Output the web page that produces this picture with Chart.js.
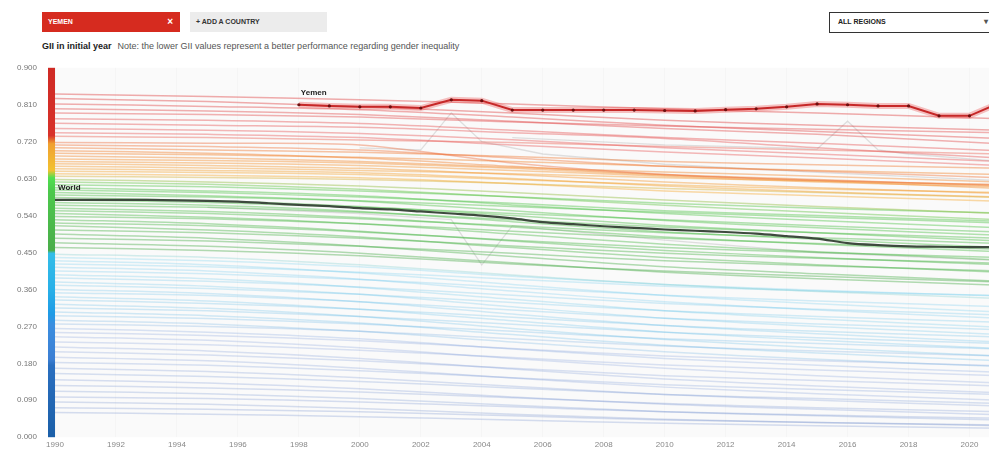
<!DOCTYPE html>
<html>
<head>
<meta charset="utf-8">
<script src="https://cdn.jsdelivr.net/npm/chart.js@4.4.0/dist/chart.umd.min.js"></script>
<style>
	* { box-sizing: border-box; }
	body {
		margin: 0;
		width: 989px;
		height: 450px;
		overflow: hidden;
		position: relative;
		background: #fff;
		font-family: "Liberation Sans", Arial, sans-serif;
	}
	.pill {
		position: absolute;
		top: 12px;
		height: 20px;
		line-height: 20px;
		font-size: 7px;
		font-weight: bold;
		padding-left: 6px;
	}
	.country { left: 42px; width: 138px; background: #d62b1f; color: #fff; }
	.country span { position: absolute; right: 7px; font-size: 10px; }
	.add { left: 190px; width: 137px; background: #ececec; color: #333; }
	.regions {
		left: 829px; width: 170px; height: 21px; line-height: 18px;
		border: 1.5px solid #333; background: #fff; color: #222; padding-left: 8px;
	}
	.regions span { position: absolute; left: 154px; font-size: 8px; color: #555; }
	.note {
		position: absolute;
		top: 41px;
		left: 42px;
		font-size: 9px;
		color: #555;
		white-space: nowrap;
	}
	.note b { color: #222; margin-right: 6px; }
	#chart { position: absolute; top: 53px; left: 0; }
</style>
</head>
<body>
<div class="pill country">YEMEN<span>×</span></div>
<div class="pill add">+ ADD A COUNTRY</div>
<div class="pill regions">ALL REGIONS<span>▾</span></div>
<div class="note"><b>GII in initial year</b>Note: the lower GII values represent a better performance regarding gender inequality</div>
<canvas id="chart" width="1004" height="399"></canvas>

<script>
// Tick labels
const xTicks = [1990, 1992, 1994, 1996, 1998, 2000, 2002, 2004, 2006, 2008, 2010, 2012, 2014, 2016, 2018, 2020];
const yTicks = [0, 0.09, 0.18, 0.27, 0.36, 0.45, 0.54, 0.63, 0.72, 0.81, 0.9];

// Highlighted series
const yemenYears = [1998, 1999, 2000, 2001, 2002, 2003, 2004, 2005, 2006, 2007, 2008, 2009, 2010, 2011, 2012, 2013, 2014, 2015, 2016, 2017, 2018, 2019, 2020, 2021];
const yemenValues = [0.810, 0.807, 0.805, 0.805, 0.802, 0.822, 0.820, 0.797, 0.797, 0.797, 0.797, 0.797, 0.796, 0.795, 0.798, 0.800, 0.805, 0.812, 0.810, 0.807, 0.807, 0.783, 0.783, 0.815];

const worldYears = [1990, 1991, 1992, 1993, 1994, 1995, 1996, 1997, 1998, 1999, 2000, 2001, 2002, 2003, 2004, 2005, 2006, 2007, 2008, 2009, 2010, 2011, 2012, 2013, 2014, 2015, 2016, 2017, 2018, 2019, 2020, 2021];
const worldValues = [0.578, 0.578, 0.578, 0.578, 0.577, 0.576, 0.574, 0.570, 0.566, 0.563, 0.558, 0.555, 0.550, 0.545, 0.540, 0.533, 0.524, 0.519, 0.514, 0.510, 0.506, 0.503, 0.500, 0.496, 0.490, 0.484, 0.473, 0.468, 0.465, 0.464, 0.463, 0.463];

// Background countries, sampled years
const sampleYears = [1990, 1995, 2000, 2005, 2010, 2015, 2021];

const redLines = [
	[0.836, 0.830, 0.822, 0.812, 0.800, 0.790, 0.776],
	[0.825, 0.818, 0.805, 0.790, 0.772, 0.760, 0.748],
	[0.812, 0.806, 0.798, 0.780, 0.760, 0.745, 0.728],
	[0.800, 0.795, 0.786, 0.770, 0.752, 0.738, 0.715],
	[0.790, 0.786, 0.780, 0.768, 0.758, 0.750, 0.742],
	[0.776, 0.772, 0.764, 0.748, 0.730, 0.716, 0.698],
	[0.765, 0.760, 0.755, 0.742, 0.728, 0.705, 0.680],
	[0.752, 0.748, 0.740, 0.725, 0.705, 0.690, 0.672],
	[0.742, 0.738, 0.730, 0.712, 0.695, 0.680, 0.662],
	[0.733, 0.730, 0.724, 0.718, 0.708, 0.700, 0.690],
];

const orangeLines = [
	[0.718, 0.716, 0.712, 0.668, 0.640, 0.626, 0.615],
	[0.712, 0.708, 0.700, 0.680, 0.660, 0.648, 0.632],
	[0.705, 0.700, 0.694, 0.684, 0.672, 0.664, 0.655],
	[0.698, 0.692, 0.680, 0.660, 0.640, 0.628, 0.612],
	[0.692, 0.688, 0.682, 0.672, 0.660, 0.650, 0.640],
	[0.685, 0.680, 0.672, 0.658, 0.646, 0.636, 0.622],
	[0.678, 0.674, 0.668, 0.655, 0.638, 0.625, 0.606],
	[0.672, 0.668, 0.662, 0.650, 0.636, 0.622, 0.610],
	[0.666, 0.662, 0.655, 0.640, 0.622, 0.608, 0.594],
	[0.660, 0.656, 0.650, 0.642, 0.632, 0.624, 0.615],
	[0.654, 0.650, 0.644, 0.630, 0.612, 0.598, 0.585],
	[0.648, 0.645, 0.640, 0.628, 0.615, 0.605, 0.596],
	[0.642, 0.638, 0.632, 0.618, 0.600, 0.588, 0.575],
	[0.636, 0.633, 0.628, 0.618, 0.606, 0.596, 0.584],
];

const greenLines = [
	[0.628, 0.622, 0.612, 0.596, 0.578, 0.562, 0.545],
	[0.622, 0.616, 0.604, 0.585, 0.565, 0.548, 0.530],
	[0.615, 0.610, 0.600, 0.586, 0.570, 0.558, 0.546],
	[0.608, 0.600, 0.588, 0.566, 0.545, 0.528, 0.510],
	[0.602, 0.596, 0.585, 0.570, 0.552, 0.540, 0.526],
	[0.596, 0.588, 0.575, 0.552, 0.528, 0.510, 0.492],
	[0.590, 0.585, 0.576, 0.562, 0.548, 0.536, 0.522],
	[0.584, 0.576, 0.562, 0.540, 0.516, 0.498, 0.478],
	[0.578, 0.572, 0.560, 0.545, 0.530, 0.515, 0.500],
	[0.572, 0.565, 0.550, 0.525, 0.500, 0.482, 0.462],
	[0.565, 0.560, 0.548, 0.530, 0.512, 0.498, 0.485],
	[0.558, 0.550, 0.535, 0.512, 0.488, 0.470, 0.452],
	[0.552, 0.545, 0.532, 0.515, 0.498, 0.486, 0.472],
	[0.545, 0.536, 0.520, 0.495, 0.470, 0.452, 0.432],
	[0.538, 0.532, 0.520, 0.502, 0.485, 0.472, 0.458],
	[0.530, 0.520, 0.502, 0.478, 0.455, 0.438, 0.420],
	[0.522, 0.515, 0.500, 0.480, 0.462, 0.450, 0.438],
	[0.515, 0.505, 0.488, 0.462, 0.438, 0.420, 0.402],
	[0.505, 0.498, 0.485, 0.466, 0.448, 0.436, 0.424],
	[0.495, 0.485, 0.466, 0.440, 0.415, 0.398, 0.380],
	[0.485, 0.478, 0.465, 0.448, 0.430, 0.418, 0.405],
	[0.474, 0.465, 0.448, 0.425, 0.402, 0.386, 0.370],
	[0.462, 0.455, 0.442, 0.422, 0.405, 0.392, 0.378],
];

const cyanLines = [
	[0.446, 0.438, 0.420, 0.395, 0.372, 0.355, 0.338],
	[0.438, 0.430, 0.415, 0.392, 0.372, 0.358, 0.344],
	[0.430, 0.420, 0.400, 0.372, 0.345, 0.325, 0.305],
	[0.422, 0.415, 0.402, 0.385, 0.368, 0.356, 0.345],
	[0.414, 0.405, 0.385, 0.356, 0.330, 0.310, 0.290],
	[0.405, 0.398, 0.384, 0.365, 0.346, 0.332, 0.318],
	[0.396, 0.386, 0.365, 0.336, 0.308, 0.288, 0.268],
	[0.388, 0.380, 0.366, 0.346, 0.326, 0.312, 0.298],
	[0.378, 0.368, 0.348, 0.318, 0.290, 0.270, 0.250],
	[0.370, 0.362, 0.348, 0.328, 0.308, 0.294, 0.280],
	[0.360, 0.350, 0.330, 0.300, 0.272, 0.252, 0.232],
	[0.352, 0.345, 0.330, 0.310, 0.290, 0.276, 0.262],
	[0.342, 0.332, 0.312, 0.284, 0.256, 0.236, 0.216],
	[0.334, 0.326, 0.312, 0.292, 0.272, 0.258, 0.244],
	[0.324, 0.314, 0.294, 0.265, 0.238, 0.218, 0.198],
	[0.315, 0.308, 0.294, 0.275, 0.256, 0.242, 0.228],
	[0.305, 0.296, 0.278, 0.250, 0.224, 0.205, 0.186],
	[0.296, 0.289, 0.276, 0.258, 0.240, 0.228, 0.215],
	[0.285, 0.276, 0.258, 0.232, 0.208, 0.190, 0.172],
	[0.276, 0.270, 0.258, 0.240, 0.222, 0.210, 0.198],
];

const blueLines = [
	[0.265, 0.256, 0.240, 0.215, 0.192, 0.175, 0.158],
	[0.255, 0.248, 0.235, 0.216, 0.198, 0.186, 0.174],
	[0.245, 0.236, 0.218, 0.192, 0.168, 0.150, 0.132],
	[0.232, 0.225, 0.212, 0.194, 0.176, 0.164, 0.150],
	[0.220, 0.210, 0.192, 0.166, 0.142, 0.125, 0.108],
	[0.208, 0.200, 0.186, 0.168, 0.150, 0.138, 0.125],
	[0.195, 0.186, 0.168, 0.144, 0.122, 0.106, 0.090],
	[0.182, 0.175, 0.162, 0.145, 0.128, 0.116, 0.104],
	[0.168, 0.160, 0.145, 0.124, 0.104, 0.090, 0.076],
	[0.155, 0.148, 0.136, 0.120, 0.104, 0.094, 0.082],
	[0.140, 0.132, 0.118, 0.098, 0.080, 0.068, 0.055],
	[0.126, 0.120, 0.110, 0.096, 0.082, 0.072, 0.062],
	[0.112, 0.106, 0.094, 0.078, 0.062, 0.052, 0.042],
	[0.098, 0.094, 0.086, 0.074, 0.062, 0.054, 0.046],
	[0.086, 0.080, 0.070, 0.056, 0.044, 0.036, 0.028],
	[0.072, 0.068, 0.062, 0.052, 0.042, 0.036, 0.030],
	[0.060, 0.056, 0.050, 0.042, 0.034, 0.028, 0.022],
];

// Countries without a value in the initial year (grey, irregular)
const grayYearsA = [2000, 2002, 2003, 2004, 2006, 2010, 2015, 2021];
const grayA = [0.705, 0.700, 0.790, 0.720, 0.690, 0.665, 0.645, 0.625];
const grayYearsB = [2005, 2010, 2014, 2015, 2016, 2017, 2018, 2021];
const grayB = [0.730, 0.712, 0.705, 0.702, 0.770, 0.700, 0.690, 0.672];
const grayYearsC = [1995, 2000, 2003, 2004, 2005, 2010, 2015, 2021];
const grayC = [0.560, 0.545, 0.530, 0.420, 0.515, 0.480, 0.450, 0.430];

// Colour scale (by GII value)
const barStops = [
	[0.900, "#cf2a24"], [0.735, "#d8322a"], [0.715, "#f0a030"], [0.650, "#f2c230"],
	[0.632, "#50e050"], [0.600, "#4cc94c"], [0.455, "#4aad4a"], [0.448, "#33bde8"],
	[0.360, "#28b0e8"], [0.300, "#1e9be6"], [0.275, "#3a8ee0"], [0.190, "#3c7fd4"],
	[0.175, "#2a6fc0"], [0.000, "#1b5fa8"],
];
const lineStops = [
	[0.90, [214, 40, 40]], [0.74, [232, 90, 90]], [0.70, [240, 120, 35]],
	[0.64, [245, 170, 45]], [0.62, [75, 195, 65]], [0.46, [75, 170, 75]],
	[0.44, [80, 195, 235]], [0.30, [70, 170, 225]], [0.26, [110, 145, 215]],
	[0.00, [80, 115, 190]],
];

function lineColor(v) {
	// warmer bands are denser in the original, cooler bands paler
	const alpha = v >= 0.45 ? 0.42 : 0.24;
	for (let i = 0; i < lineStops.length - 1; i++) {
		const [v0, c0] = lineStops[i];
		const [v1, c1] = lineStops[i + 1];
		if (v <= v0 && v >= v1) {
			const t = (v0 - v) / (v0 - v1);
			const c = c0.map((c, k) => Math.round(c + (c1[k] - c) * t));
			return "rgba(" + c.join(",") + "," + alpha + ")";
		}
	}
	return "rgba(150,150,150," + alpha + ")";
}

function toPoints(years, values) {
	return years.map((yr, i) => ({ x: yr, y: values[i] }));
}

const datasets = [];

// Yemen on top
datasets.push({
	data: toPoints(yemenYears, yemenValues),
	borderColor: "#c62828",
	borderWidth: 2,
	pointRadius: 1.6,
	pointBackgroundColor: "#6d0f0f",
	pointBorderWidth: 0,
	tension: 0,
});
datasets.push({
	data: toPoints(yemenYears, yemenValues),
	borderColor: "rgba(235, 80, 80, 0.35)",
	borderWidth: 6,
	pointRadius: 0,
	tension: 0,
});
datasets.push({
	data: toPoints(worldYears, worldValues),
	borderColor: "#3d4a3d",
	borderWidth: 2.2,
	pointRadius: 0,
	tension: 0.3,
});

[redLines, orangeLines, greenLines, cyanLines, blueLines].forEach((band) => {
	band.forEach((vals) => {
		datasets.push({
			data: toPoints(sampleYears, vals),
			borderColor: lineColor(vals[0]),
			borderWidth: 1.5,
			pointRadius: 0,
			tension: 0.3,
		});
	});
});

[[grayYearsA, grayA], [grayYearsB, grayB], [grayYearsC, grayC]].forEach(([yrs, vals]) => {
	datasets.push({
		data: toPoints(yrs, vals),
		borderColor: "rgba(160,160,160,0.3)",
		borderWidth: 1.3,
		pointRadius: 0,
		tension: 0,
	});
});

// Plot background + colour bar
const bandPlugin = {
	id: "band",
	beforeDraw(chart) {
		const { ctx, chartArea, scales } = chart;
		ctx.save();
		ctx.fillStyle = "#fafafa";
		ctx.fillRect(chartArea.left, chartArea.top, chartArea.right - chartArea.left, chartArea.bottom - chartArea.top);
		const top = scales.y.getPixelForValue(yTicks[yTicks.length - 1]);
		const bottom = scales.y.getPixelForValue(yTicks[0]);
		const grad = ctx.createLinearGradient(0, top, 0, bottom);
		barStops.forEach(([v, c]) => {
			grad.addColorStop((scales.y.getPixelForValue(v) - top) / (bottom - top), c);
		});
		ctx.fillStyle = grad;
		ctx.fillRect(chartArea.left - 7, top, 7, bottom - top);
		ctx.restore();
	},
};

// Series names
const labelPlugin = {
	id: "names",
	afterDatasetsDraw(chart) {
		const { ctx, scales } = chart;
		ctx.save();
		ctx.font = "bold 8px 'Liberation Sans', Arial, sans-serif";
		ctx.fillStyle = "#222";
		ctx.fillText("Yemen", scales.x.getPixelForValue(yemenYears[0]) + 2, scales.y.getPixelForValue(yemenValues[0]) - 10);
		ctx.fillText("World", scales.x.getPixelForValue(worldYears[0]) + 3, scales.y.getPixelForValue(worldValues[0]) - 10);
		ctx.restore();
	},
};

new Chart(document.getElementById("chart"), {
	type: "line",
	data: { datasets: datasets },
	plugins: [bandPlugin, labelPlugin],
	options: {
		responsive: false,
		animation: false,
		layout: { padding: { top: 0, right: 3, left: 0, bottom: 0 } },
		plugins: {
			legend: { display: false },
			tooltip: { enabled: false },
		},
		scales: {
			x: {
				type: "linear",
				min: 1990,
				max: 2021,
				afterBuildTicks: (scale) => {
					scale.ticks = xTicks.map((v) => ({ value: v }));
				},
				afterFit: (scale) => {
					scale.height = 14;
				},
				grid: {
					color: "rgba(0,0,0,0.02)",
					drawTicks: false,
				},
				border: { display: false },
				ticks: {
					padding: 3,
					color: "#888",
					font: { size: 8, family: "'Liberation Sans', Arial, sans-serif" },
					maxRotation: 0,
					autoSkip: false,
					callback: (v) => String(v),
				},
			},
			y: {
				min: 0,
				max: 0.9,
				afterBuildTicks: (scale) => {
					scale.ticks = yTicks.map((v) => ({ value: v }));
				},
				afterFit: (scale) => {
					scale.width = 55;
				},
				grid: { display: false },
				border: { display: false },
				ticks: {
					padding: 10,
					color: "#777",
					font: { size: 8, family: "'Liberation Sans', Arial, sans-serif" },
					callback: (v) => v.toFixed(3),
				},
			},
		},
	},
});
</script>
</body>
</html>
